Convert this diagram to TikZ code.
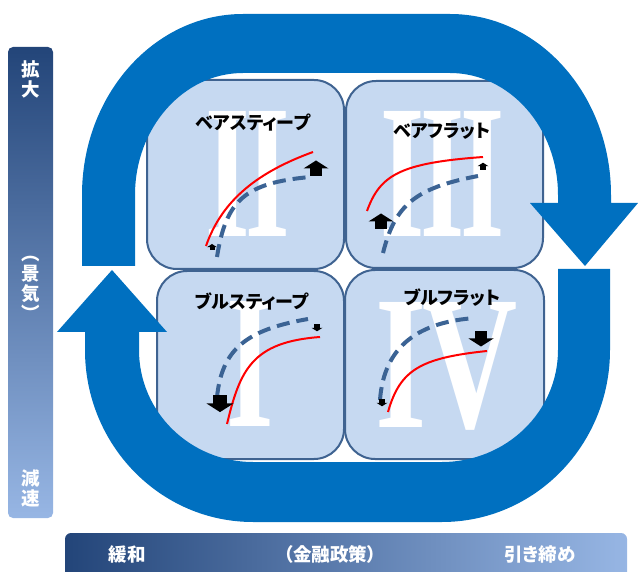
\documentclass[tikz,border=0pt]{standalone}
\usepackage{fontspec}
\usepackage{graphicx}
\newfontfamily\jp{Noto Sans CJK JP}[RawFeature=+palt]
\newfontfamily\numfont{Liberation Serif}
\definecolor{arrowblue}{HTML}{0070C0}
\definecolor{boxfill}{HTML}{C6D9F1}
\definecolor{boxline}{HTML}{3F6391}
\definecolor{dashblue}{HTML}{3B6394}
\definecolor{bardark}{HTML}{234579}
\definecolor{barlight}{HTML}{97B6E4}
\tikzset{
  quad/.style={draw=boxline, line width=2pt, fill=boxfill, rounded corners=30pt, inner sep=0pt},
  roman/.style={text=white, inner sep=0pt, anchor=base, font=\numfont\bfseries\fontsize{191}{191}\selectfont},
  qlabel/.style={text=black, inner sep=0pt, font=\jp\bfseries\fontsize{18}{18}\selectfont},
  bartext/.style={text=white, inner sep=0pt, align=center, font=\jp\bfseries\fontsize{18.5}{20}\selectfont},
  redcurve/.style={draw=red, line width=2pt},
  dashcurve/.style={draw=dashblue, line width=4pt, dash pattern=on 13pt off 7pt},
  bigarrow/.style={fill=arrowblue, draw=none},
  blockup/.pic={
    \fill[black] (-0.25,0.32) rectangle (0.25,0);
    \fill[black] (-0.5,0.02) -- (0.5,0.02) -- (0,-0.3) -- cycle;
  }
}
\begin{document}
\begin{tikzpicture}[x=1pt,y=-1pt]
\useasboundingbox (0,0) rectangle (638,572);
\clip (0,0) rectangle (638,572);

% side and bottom bars
\node[rounded corners=5pt, top color=bardark, bottom color=barlight, minimum width=45pt, minimum height=471pt, inner sep=0pt] (vbar) at (30.5,282.5) {};
\node[rounded corners=6pt, left color=bardark, right color=barlight, minimum width=562pt, minimum height=47pt, inner sep=0pt] (hbar) at (346,556.5) {};

\node[bartext] (keizai1) at (31,79) {拡\\大};
\node[bartext] (keizai2) at (31,288) {︵\\景\\気\\︶};
\node[bartext] (keizai3) at (31,488.5) {減\\速};
\node[bartext] (kin1) at (127,554) {緩和};
\node[bartext] (kin2) at (330,554) {（金融政策）};
\node[bartext] (kin3) at (540,554) {引き締め};

% quadrants
\node[quad, minimum width=197pt, minimum height=189pt] (q2) at (245.5,174.5) {};
\node[quad, minimum width=197pt, minimum height=187pt] (q3) at (444.5,174.5) {};
\node[quad, minimum width=187pt, minimum height=188pt] (q1) at (250.5,365) {};
\node[quad, minimum width=199pt, minimum height=189pt] (q4) at (444.5,364.5) {};

% roman numerals
\node[roman] (r2) at (247.5,237) {\scalebox{0.60}[1]{I\kern-0.04em I}};
\node[roman] (r3) at (442.5,237) {\scalebox{0.595}[1]{I\kern-0.04em I\kern-0.04em I}};
\node[roman] (r1) at (250.5,427) {\scalebox{0.64}[1]{I}};
\node[roman] (r4) at (446.5,428) {\scalebox{0.69}[1]{I\kern-0.04em V}};

% labels
\node[qlabel] (l2) at (253,123) {ベアスティープ};
\node[qlabel] (l3) at (442,131) {ベアフラット};
\node[qlabel] (l1) at (252,301) {ブルスティープ};
\node[qlabel] (l4) at (452,298) {ブルフラット};

% curves: box II
\draw[redcurve] (206,246) .. controls (222,200) and (258,172) .. (313,152);
\draw[dashcurve] (217,257) .. controls (226,200) and (245,183) .. (310,177);
\pic[scale=10] at (212,247) {blockup};
\pic[scale=25] at (316,168) {blockup};
% box III
\draw[redcurve] (367,211) .. controls (380,175) and (400,163) .. (483,157);
\draw[dashcurve] (383,253) .. controls (395,205) and (415,188) .. (478,176);
\pic[scale=25] at (381,221) {blockup};
\pic[scale=11] at (483,166) {blockup};
% box I
\draw[redcurve] (227,424) .. controls (240,370) and (252,342) .. (320,337);
\draw[dashcurve] (217,397) .. controls (222,350) and (245,330) .. (308,319);
\pic[scale=27, rotate=180] at (220,404) {blockup};
\pic[scale=11, rotate=180] at (317,328) {blockup};
% box IV
\draw[redcurve] (388,412) .. controls (400,370) and (420,358) .. (487,351);
\draw[dashcurve] (380,400) .. controls (384,345) and (420,322) .. (475,318);
\pic[scale=25, rotate=180] at (481,339) {blockup};
\pic[scale=11, rotate=180] at (382,403) {blockup};

% big cycle arrows
\fill[bigarrow] (82,266) -- (82,195) .. controls (82,95) and (154,14) .. (243,14)
  -- (450,14) .. controls (539,14) and (611,95) .. (611,195)
  -- (611,203) -- (638,203) -- (585,266) -- (530,203) -- (558,203) -- (558,195)
  .. controls (558,127.6) and (509.6,73) .. (450,73)
  -- (243,73) .. controls (183.4,73) and (135,127.6) .. (135,195)
  -- (135,266) -- cycle;
\fill[bigarrow] (558,269) -- (610,269) -- (610,350)
  .. controls (610,445) and (534.8,522) .. (442,522)
  -- (253,522) .. controls (160.2,522) and (85,445) .. (85,350)
  -- (85,332) -- (57,332) -- (112,270) -- (167,332) -- (139,332) -- (139,350)
  .. controls (139,411.9) and (190,462) .. (253,462)
  -- (442,462) .. controls (506,462) and (558,411.9) .. (558,350) -- cycle;
\end{tikzpicture}
\end{document}
